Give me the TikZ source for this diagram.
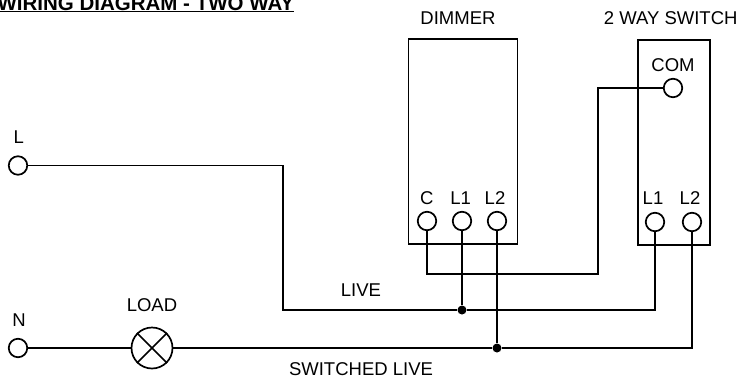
\documentclass[tikz,border=0pt]{standalone}
\usepackage{fontspec}
\setmainfont{Liberation Sans}
\begin{document}
\begin{tikzpicture}[x=1pt,y=-1pt,
  line width=1.8pt,
  term/.style={circle,draw,fill=white,inner sep=0pt,minimum size=18.5pt,line width=1.7pt},
  lamp/.style={circle,draw,inner sep=0pt,minimum size=41pt,line width=1.7pt},
  joint/.style={circle,fill=black,inner sep=0pt,minimum size=9pt},
  unit/.style={draw,inner sep=0pt,line width=1.7pt,anchor=north west},
  lab/.style={anchor=base,inner sep=0pt,font=\fontsize{18.5}{21}\selectfont},
  wire/.style={line width=1.7pt}]
\useasboundingbox (0,0) rectangle (738,378);
% title
\node[anchor=base east,inner sep=0pt,font=\fontsize{20.5}{23}\selectfont\bfseries] (title) at (295,10) {\underline{WIRING DIAGRAM - TWO WAY}};
% units
\node[unit,minimum width=109pt,minimum height=205pt] (dimmer) at (407.5,38) {};
\node[unit,minimum width=72pt,minimum height=205pt] (switch) at (637,39) {};
% wires coordinates
\coordinate (a1) at (283,165.5);
\coordinate (a2) at (283,310);
\coordinate (b1) at (427,273.7);
\coordinate (b2) at (597.7,273.7);
\coordinate (b3) at (597.7,88);
\coordinate (c1) at (655,310);
\coordinate (d1) at (692,348);
% terminals
\node[term] (L) at (18,165.5) {};
\node[term] (N) at (18,348) {};
\node[term] (dc) at (427,221) {};
\node[term] (dl1) at (462,221) {};
\node[term] (dl2) at (497,221) {};
\node[term] (com) at (673,88) {};
\node[term] (sl1) at (655,222) {};
\node[term] (sl2) at (692,222) {};
\node[lamp] (load) at (152,348) {};
\node[joint] (j1) at (462,310) {};
\node[joint] (j2) at (497,348) {};
% connectors
\begin{scope}[wire]
\draw (L) -- (a1) -- (a2) -- (j1);
\draw (j1) -- (c1) -- (sl1);
\draw (dl1) -- (j1);
\draw (dc) -- (b1) -- (b2) -- (b3) -- (com);
\draw (dl2) -- (j2);
\draw (N) -- (load);
\draw (load) -- (j2);
\draw (j2) -- (d1) -- (sl2);
\end{scope}
\draw[line width=1.6pt] (load.45) -- (load.225) (load.135) -- (load.315);
% labels
\node[lab] (tdim) at (458,24) {DIMMER};
\node[lab] (tsw) at (670.7,24) {2 WAY SWITCH};
\node[lab] (tcom) at (673,71) {COM};
\node[lab] (tc) at (426.7,204) {C};
\node[lab] (td1) at (460.7,204) {L1};
\node[lab] (td2) at (495,204) {L2};
\node[lab] (ts1) at (653,204.5) {L1};
\node[lab] (ts2) at (690,204.5) {L2};
\node[lab] (tl) at (18.7,143) {L};
\node[lab] (tn) at (19,326.7) {N};
\node[lab] (tload) at (152,311.7) {LOAD};
\node[lab] (tlive) at (361,296.7) {LIVE};
\node[lab] (tsl) at (361,375.5) {SWITCHED LIVE};
\end{tikzpicture}
\end{document}
